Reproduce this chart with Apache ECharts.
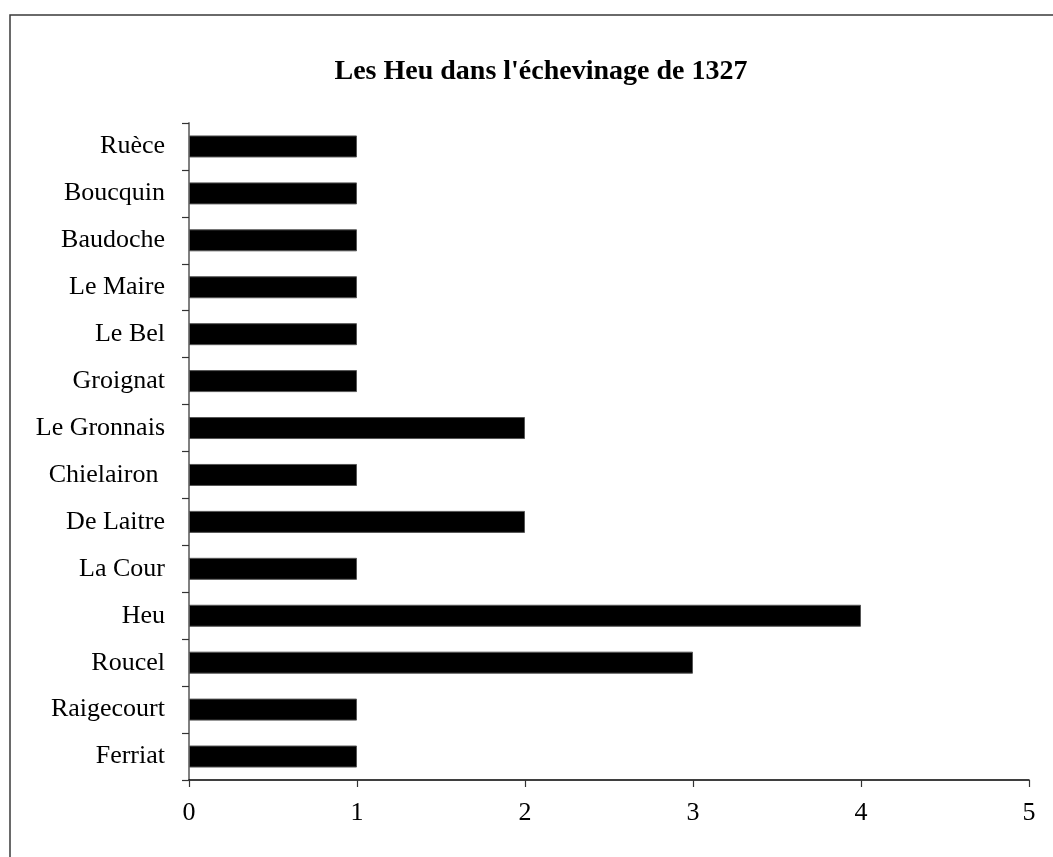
<!DOCTYPE html>
<html>
<head>
<meta charset="utf-8">
<script src="https://cdn.jsdelivr.net/npm/echarts@6/dist/echarts.min.js"></script>
<style>
  html, body { margin: 0; padding: 0; background: #fff; }
  #chart { width: 1053px; height: 857px; }
</style>
</head>
<body>
<div id="chart"></div>
<script>
// Families, listed bottom to top as they appear on the axis
const families = ['Ferriat', 'Raigecourt', 'Roucel', 'Heu', 'La Cour', 'De Laitre',
  'Chielairon ', 'Le Gronnais', 'Groignat', 'Le Bel', 'Le Maire', 'Baudoche',
  'Boucquin', 'Ruèce'];
// Number of échevins per family
const seats = [1, 1, 3, 4, 1, 2, 1, 2, 1, 1, 1, 1, 1, 1];
const titleText = "Les Heu dans l'échevinage de 1327";
const xMin = 0, xMax = 5, xStep = 1;

const serif = '"Liberation Serif", "Times New Roman", serif';
const chart = echarts.init(document.getElementById('chart'), null, { renderer: 'canvas' });

chart.setOption({
  animation: false,
  backgroundColor: '#fff',
  title: {
    text: titleText,
    left: 536,
    top: 53,
    textAlign: 'center',
    textStyle: { fontFamily: serif, fontSize: 28, fontWeight: 'bold', color: '#000' }
  },
  graphic: [{
    type: 'rect',
    shape: { x: 10, y: 15, width: 1100, height: 900 },
    style: { fill: 'none', stroke: '#3a3a3a', lineWidth: 1.5 },
    silent: true
  }],
  grid: { left: 189, right: 24, top: 123, bottom: 77, containLabel: false },
  xAxis: {
    type: 'value',
    min: xMin, max: xMax, interval: xStep,
    axisLine: { show: true, lineStyle: { color: '#000', width: 1.5 } },
    axisTick: { show: true, length: 7, lineStyle: { color: '#333', width: 1.2 } },
    axisLabel: { fontFamily: serif, fontSize: 26, color: '#000', margin: 20 },
    splitLine: { show: false }
  },
  yAxis: {
    type: 'category',
    data: families,
    axisLine: { show: true, onZero: false, lineStyle: { color: '#808080', width: 2 } },
    axisTick: { show: true, length: 7, alignWithLabel: false, lineStyle: { color: '#333', width: 1.2 } },
    axisLabel: { fontFamily: serif, fontSize: 26, color: '#000', margin: 24, padding: [8, 0, 0, 0] },
    splitLine: { show: false }
  },
  series: [{
    type: 'bar',
    data: seats,
    barWidth: 22,
    itemStyle: { color: '#000', borderColor: '#555', borderWidth: 1 },
    silent: true
  }]
});
</script>
</body>
</html>
